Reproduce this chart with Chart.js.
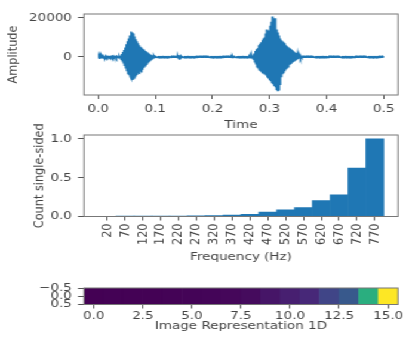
<!DOCTYPE html>
<html>
<head>
<meta charset="utf-8">
<script src="https://cdn.jsdelivr.net/npm/chart.js@4.4.0/dist/chart.umd.min.js"></script>
<style>
    html, body { margin: 0; padding: 0; background: #fff; }
    body { width: 406px; height: 340px; overflow: hidden; position: relative; }
    /* the reference is a bit wider than tall, so the whole drawing is stretched sideways */
    #stage { position: absolute; left: 0; top: 0; width: 340px; height: 340px;
             transform: scaleX(1.19412); transform-origin: 0 0; }
    #stage canvas { position: absolute; left: 0; }
</style>
</head>
<body>
<div id="stage">
    <canvas id="wave-chart" width="340" height="135" style="top:0px"></canvas>
    <canvas id="spectrum-chart" width="340" height="160" style="top:115px"></canvas>
    <canvas id="image-chart" width="340" height="65" style="top:275px"></canvas>
</div>
<script>
// Waveform samples (one every 1 ms, from t = 0 to t = 0.5), 20 per row
const sampleStep = 0.001;
const amplitude = [
    -400, 200, -700, 500, -300, 600, -200, 100, -500, 300, -150, 100, -600, 400, -200, 150, -300, 200, -100, 150,
    -200, 100, -300, 200, -150, 250, -400, 300, -200, 150, -100, 200, -500, 300, -150, 100, -250, 300, -400, 600,
    -1200, 1500, -2000, 2500, -3000, 3500, -4200, 4800, -5500, 6500, -7000, 8000, -8500, 9500, -9000, 11000, -10000, 13000, -11000, 12500,
    -11800, 12000, -11500, 10500, -11000, 9000, -10000, 8000, -9200, 7000, -8500, 6000, -8800, 5200, -7500, 4800, -8000, 4200, -6500, 3800,
    -5500, 3500, -4500, 3000, -3800, 2600, -3000, 2200, -2400, 1800, -1800, 1400, -1300, 1000, -900, 800, -600, 400, -300, 200,
    -120, 100, -150, 80, -100, 130, -90, 110, -140, 100, -120, 90, -110, 140, -100, 80, -130, 110, -90, 120,
    -120, 100, -150, 80, -100, 130, -90, 110, -140, 100, -120, 90, -110, 140, -100, 80, -130, 110, -90, 300,
    -600, 900, -1000, 800, -500, 300, -150, 80, -100, 130, -90, 110, -140, 100, -120, 90, -110, 140, -100, 80,
    -120, 100, -150, 80, -100, 130, -90, 110, -140, 100, -120, 90, -110, 140, -100, 80, -130, 110, -90, 120,
    -120, 100, -150, 80, -100, 130, -90, 110, -140, 100, -120, 90, -110, 140, -100, 80, -130, 110, -90, 120,
    -120, 100, -150, 80, -100, 130, -90, 110, -140, 100, -120, 90, -110, 140, -100, 80, -130, 110, -90, 120,
    -120, 100, -150, 80, -100, 130, -90, 110, -140, 100, -120, 90, -110, 140, -300, 400, -250, 110, -90, 120,
    -120, 100, -150, 80, -100, 130, -90, 110, -140, 100, -120, 90, -110, 140, -100, 80, -130, 110, -90, 120,
    -120, 100, -150, 80, -200, 300, -350, 400, -400, 500, -600, 700, -1200, 1800, -2500, 3000, -3500, 4000, -5000, 4500,
    -5500, 6000, -6500, 6800, -7000, 7500, -7500, 8500, -8000, 9500, -8500, 10000, -9000, 12000, -9500, 14000, -10500, 12500, -11000, 13500,
    -12000, 16000, -12500, 18000, -13500, 20700, -14000, 17000, -15000, 19800, -15500, 16000, -16500, 14000, -17200, 12500, -16800, 11000, -14000, 9500,
    -10000, 8500, -8500, 8000, -8000, 7500, -7000, 7000, -6000, 6000, -5500, 5500, -5000, 5000, -4500, 4500, -4000, 4000, -3600, 3500,
    -3000, 3000, -2600, 2500, -2200, 2000, -1800, 1500, -1400, 1200, -1000, 900, -700, 600, -500, 400, -300, 250, -150, 120,
    -120, 100, -150, 80, -100, 130, -90, 110, -140, 100, -120, 90, -110, 140, -100, 80, -130, 110, -90, 120,
    -120, 100, -150, 80, -100, 130, -90, 110, -140, 100, -120, 90, -110, 140, -100, 80, -130, 110, -90, 120,
    -120, 100, -150, 80, -100, 130, -90, 110, -140, 100, -120, 90, -110, 140, -100, 80, -130, 110, -90, 120,
    -120, 100, -150, 80, -100, 130, -90, 110, -140, 100, -120, 90, -110, 140, -100, 80, -130, 110, -90, 120,
    -120, 100, -150, 80, -100, 130, -90, 110, -140, 100, -120, 90, -110, 140, -100, 80, -130, 110, -90, 120,
    -120, 100, -150, 80, -100, 130, -90, 110, -140, 100, -120, 90, -110, 140, -100, 80, -130, 110, -90, 120,
    -120, 100, -150, 80, -100, 130, -90, 110, -140, 100, -120, 90, -110, 140, -100, 80, -130, 110, -90, 120,
    -100
];
const timeTicks = [0, 0.1, 0.2, 0.3, 0.4, 0.5];
const ampTicks = [0, 20000];

// Single-sided spectrum counts
const frequencies = [20, 70, 120, 170, 220, 270, 320, 370, 420, 470, 520, 570, 620, 670, 720, 770];
const counts = [0.0, 0.002, 0.003, 0.004, 0.005, 0.008, 0.012, 0.018, 0.028, 0.058, 0.085, 0.114, 0.205, 0.278, 0.624, 1.0];
const countTicks = [0, 0.5, 1.0];

// 1D image axis ticks
const imageTicks = [0, 2.5, 5, 7.5, 10, 12.5, 15];
const imageRowTicks = [-0.5, 0, 0.5];

// viridis colour map anchors (0.0, 0.1, ... 1.0)
const viridis = ['#440154', '#482475', '#414487', '#355f8d', '#2a788e', '#21918c',
                 '#22a884', '#44bf70', '#7ad151', '#bddf26', '#fde725'];

const textColor = '#444';
const edgeColor = '#777';
const lineBlue = '#1f77b4';

Chart.defaults.font.family = "'DejaVu Sans', sans-serif";
Chart.defaults.font.size = 11.3;
Chart.defaults.color = textColor;
Chart.defaults.animation = false;

// Box round the plot area, like the matplotlib spines
const framePlugin = {
    id: 'frame',
    afterDatasetsDraw(chart) {
        const { ctx, chartArea: a } = chart;
        ctx.save();
        ctx.strokeStyle = edgeColor;
        ctx.lineWidth = 1;
        ctx.strokeRect(a.left, a.top, a.right - a.left, a.bottom - a.top);
        ctx.restore();
    }
};

function hexToRgb(hex) {
    return [1, 3, 5].map(i => parseInt(hex.substr(i, 2), 16));
}

function viridisColor(t) {
    const pos = Math.min(Math.max(t, 0), 1) * (viridis.length - 1);
    const i = Math.min(Math.floor(pos), viridis.length - 2);
    const f = pos - i;
    const a = hexToRgb(viridis[i]);
    const b = hexToRgb(viridis[i + 1]);
    const c = a.map((v, k) => Math.round(v + (b[k] - v) * f));
    return `rgb(${c[0]}, ${c[1]}, ${c[2]})`;
}

// Shared axis settings
function makeAxis(opts) {
    const vertical = opts.width !== undefined;
    return {
        type: 'linear',
        min: opts.min,
        max: opts.max,
        offset: false,
        reverse: !!opts.reverse,
        afterFit: scale => {
            if (opts.width !== undefined) scale.width = opts.width;
            if (opts.height !== undefined) scale.height = opts.height;
            // keep the plot area exactly where the layout puts it
            scale.paddingLeft = 0;
            scale.paddingRight = 0;
            scale.paddingTop = 0;
            scale.paddingBottom = 0;
        },
        afterBuildTicks: scale => {
            scale.ticks = opts.ticks.map(v => ({ value: v }));
        },
        ticks: {
            autoSkip: false,
            padding: opts.tickPadding !== undefined ? opts.tickPadding : (vertical ? 5 : 3),
            minRotation: opts.rotation || 0,
            maxRotation: opts.rotation || 0,
            callback: opts.format
        },
        grid: { drawOnChartArea: false, drawTicks: true, tickLength: vertical ? 5 : 4, tickColor: '#555', offset: false },
        border: { display: false },
        title: { display: true, text: opts.title, padding: opts.titlePadding }
    };
}

const oneDecimal = v => (v < 0 ? '\u2212' + Math.abs(v).toFixed(1) : v.toFixed(1));

function createWaveChart() {
    const points = amplitude.map((v, i) => ({ x: i * sampleStep, y: v }));
    new Chart(document.getElementById('wave-chart'), {
        type: 'line',
        data: {
            datasets: [{
                data: points,
                borderColor: lineBlue,
                borderWidth: 1.5,
                pointRadius: 0,
                tension: 0,
                fill: false
            }]
        },
        options: {
            responsive: false,
            layout: { padding: { left: 0, right: 6.7, top: 14, bottom: 0 } },
            plugins: { legend: { display: false }, tooltip: { enabled: false } },
            scales: {
                x: makeAxis({ min: -0.025, max: 0.525, ticks: timeTicks, format: v => v.toFixed(1),
                              height: 40, title: 'Time', titlePadding: { top: 0, bottom: 3 } }),
                y: makeAxis({ min: -19500, max: 22000, ticks: ampTicks, format: v => String(v),
                              width: 70.3, title: 'Amplitude', titlePadding: { top: 4, bottom: 0 } })
            }
        },
        plugins: [framePlugin]
    });
}

function createSpectrumChart() {
    new Chart(document.getElementById('spectrum-chart'), {
        type: 'bar',
        data: {
            datasets: [{
                data: frequencies.map((f, i) => ({ x: f, y: counts[i] })),
                backgroundColor: lineBlue,
                borderWidth: 0,
                barPercentage: 1,
                categoryPercentage: 1
            }]
        },
        options: {
            responsive: false,
            layout: { padding: { left: 0, right: 6.7, top: 20, bottom: 0 } },
            plugins: { legend: { display: false }, tooltip: { enabled: false } },
            scales: {
                x: makeAxis({ min: -45, max: 835, ticks: frequencies, format: v => String(v), rotation: 90,
                              height: 58.5, title: 'Frequency (Hz)', titlePadding: { top: 0, bottom: 11.5 } }),
                y: makeAxis({ min: 0, max: 1.05, ticks: countTicks, format: oneDecimal,
                              width: 70.3, title: 'Count single-sided', titlePadding: { top: 26.7, bottom: 0 } })
            }
        },
        plugins: [framePlugin]
    });
}

function createImageChart() {
    const top = Math.max(...counts);
    new Chart(document.getElementById('image-chart'), {
        type: 'bar',
        data: {
            datasets: [{
                data: counts.map((c, i) => ({ x: i, y: [-0.5, 0.5] })),
                backgroundColor: counts.map(c => viridisColor(c / top)),
                borderWidth: 0,
                barPercentage: 1,
                categoryPercentage: 1
            }]
        },
        options: {
            responsive: false,
            layout: { padding: { left: 0, right: 6.7, top: 13, bottom: 0 } },
            plugins: { legend: { display: false }, tooltip: { enabled: false } },
            scales: {
                x: makeAxis({ min: -0.5, max: 15.5, ticks: imageTicks, format: v => v.toFixed(1), tickPadding: 1,
                              height: 35.5, title: 'Image Representation 1D', titlePadding: { top: 0, bottom: 7.2 } }),
                y: makeAxis({ min: -0.5, max: 0.5, reverse: true, ticks: imageRowTicks, format: oneDecimal,
                              width: 70.3, title: '', titlePadding: 0 })
            }
        },
        plugins: [framePlugin]
    });
}

createWaveChart();
createSpectrumChart();
createImageChart();
</script>
</body>
</html>
